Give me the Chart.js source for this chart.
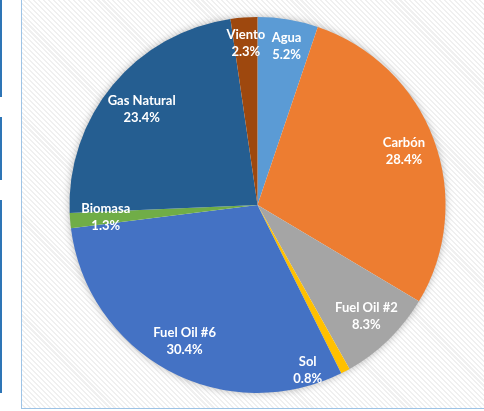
<!DOCTYPE html>
<html>
<head>
<meta charset="utf-8">
<script src="https://cdn.jsdelivr.net/npm/chart.js@4/dist/chart.umd.min.js"></script>
<style>
  html, body { margin: 0; padding: 0; background: #fff; overflow: hidden; }
  body { width: 484px; height: 411px; position: relative; }
  .side { position: absolute; left: 0; width: 2px; background: #2e75b6; }
  #frame {
    position: absolute; left: 21px; top: -2px; width: 470px; height: 409px;
    border: 1.5px solid #9dc3e6;
    background: repeating-linear-gradient(45deg, #ffffff 0px, #ffffff 2px, #f0f0f0 2px, #f0f0f0 3.5px);
  }
  #wrap { position: absolute; left: 22px; top: 0px; width: 462px; height: 408px; }
</style>
</head>
<body>
<div class="side" style="top:0;height:97px"></div>
<div class="side" style="top:117px;height:63px"></div>
<div class="side" style="top:200px;height:193px"></div>
<div id="frame"></div>
<div id="wrap"><canvas id="chart"></canvas></div>
<script>
const labels = ['Agua', 'Carbón', 'Fuel Oil #2', 'Sol', 'Fuel Oil #6', 'Biomasa', 'Gas Natural', 'Viento'];
const shares = [5.2, 28.4, 8.3, 0.8, 30.4, 1.3, 23.4, 2.3];
const colors = ['#5b9bd5', '#ed7d31', '#a5a5a5', '#ffc000', '#4472c4', '#70ad47', '#255e91', '#9e480e'];

// label placement (fraction of radius, angle shift in degrees)
const labelRadius = [0.86, 0.83, 0.83, 0.92, 0.82, 0.81, 0.80, 0.86];
const labelShift = [1, 0, 0, 11, 0, 0, 0, 0];

const pieShadow = {
  id: 'pieShadow',
  beforeDatasetsDraw(chart) {
    const arc = chart.getDatasetMeta(0).data[0];
    if (!arc) return;
    const ctx = chart.ctx;
    ctx.save();
    ctx.shadowColor = 'rgba(0,0,0,0.35)';
    ctx.shadowBlur = 9;
    ctx.fillStyle = '#ffffff';
    ctx.beginPath();
    ctx.arc(arc.x, arc.y, arc.outerRadius - 1, 0, Math.PI * 2);
    ctx.fill();
    ctx.restore();
  }
};

const sliceLabels = {
  id: 'sliceLabels',
  afterDatasetsDraw(chart) {
    const ctx = chart.ctx;
    ctx.save();
    ctx.fillStyle = '#ffffff';
    ctx.font = 'bold 13px Lato, "Open Sans", sans-serif';
    ctx.textAlign = 'center';
    ctx.textBaseline = 'middle';
    chart.getDatasetMeta(0).data.forEach((arc, i) => {
      const mid = (arc.startAngle + arc.endAngle) / 2 + labelShift[i] * Math.PI / 180;
      const r = arc.outerRadius * labelRadius[i];
      const x = arc.x + Math.cos(mid) * r;
      const y = arc.y + Math.sin(mid) * r;
      ctx.fillText(labels[i], x, y - 8.5);
      ctx.fillText(shares[i].toFixed(1) + '%', x, y + 8.5);
    });
    ctx.restore();
  }
};

new Chart(document.getElementById('chart'), {
  type: 'pie',
  data: {
    labels: labels,
    datasets: [{ data: shares, backgroundColor: colors, borderWidth: 0 }]
  },
  options: {
    responsive: true,
    maintainAspectRatio: false,
    animation: false,
    layout: { padding: { left: 9, top: 17, bottom: 15 } },
    plugins: {
      legend: { display: false },
      tooltip: { enabled: false }
    }
  },
  plugins: [pieShadow, sliceLabels]
});
</script>
</body>
</html>
